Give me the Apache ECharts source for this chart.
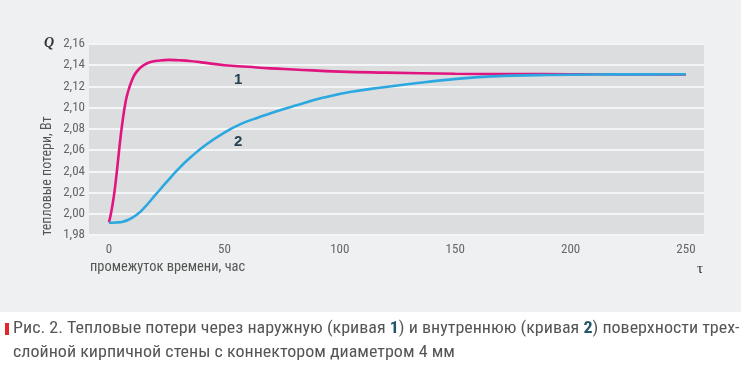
<!DOCTYPE html>
<html><head><meta charset="utf-8">
<script src="https://cdn.jsdelivr.net/npm/echarts@6/dist/echarts.min.js"></script>
<style>html,body{margin:0;padding:0;background:#fff}#c{width:746px;height:386px}</style>
</head><body><div id="c"></div>
<script>
const curve1X = [0,1,2,3,4,5,6,7,8,10,12,15,18,22,26,30,35,40,50,60,70,80,100,120,150,175,200,225,250];
const curve1Y = [1.992,2.002,2.015,2.032,2.052,2.072,2.089,2.103,2.113,2.126,2.134,2.140,2.143,2.1445,2.145,2.1447,2.144,2.1427,2.140,2.1385,2.137,2.136,2.134,2.133,2.132,2.1317,2.1315,2.1314,2.1314];
const curve2X = [0,3,6,9,12,15,20,25,30,35,42,50,57,65,71,80,93,105,120,132,146,160,175,190,210,230,250];
const curve2Y = [1.9916,1.9918,1.9925,1.995,1.999,2.005,2.0175,2.030,2.042,2.0525,2.065,2.0765,2.0845,2.091,2.0955,2.1015,2.1095,2.115,2.1195,2.1228,2.1262,2.1288,2.1302,2.1308,2.1312,2.1314,2.1315];
const xTicks = [0,50,100,150,200,250];
const curveLabels = [{name:'1', x:56, y:2.126}, {name:'2', x:56, y:2.068}];
const yAxisTitle = 'тепловые потери, Вт';
const xAxisTitle = 'промежуток времени, час';
const captionLine1 = ['Рис. 2. Тепловые потери через наружную (кривая ', '1', ') и внутреннюю (кривая ', '2', ') поверхности трех-'];
const captionLine2 = 'слойной кирпичной стены с коннектором диаметром 4 мм';

const FONT = '"Liberation Sans Narrow", "Roboto Condensed", "Liberation Sans", sans-serif';
const chart = echarts.init(document.getElementById('c'));
const zip = (xs, ys) => xs.map((x, i) => [x, ys[i]]);
const labelPoints = (lbl) => ({
  symbol: 'circle', symbolSize: 0,
  label: {show: true, position: 'inside', formatter: '{b}', color: '#23414f', fontWeight: 'bold', fontSize: 15, fontFamily: 'Liberation Sans, sans-serif'},
  data: [{name: lbl.name, coord: [lbl.x, lbl.y]}]
});
chart.setOption({
  animation: false,
  backgroundColor: '#ffffff',
  graphic: [
    {type: 'rect', z: -10, shape: {x: 0, y: 0, width: 741, height: 312}, style: {fill: '#eff0f1'}},
    {type: 'text', left: 44, top: 36, style: {text: 'Q', font: 'italic bold 14px "Liberation Serif", serif', fill: '#333'}},
    {type: 'text', x: 47, y: 176, rotation: Math.PI/2, style: {text: yAxisTitle, font: '14px ' + FONT, fill: '#555', align: 'center', verticalAlign: 'middle'}},
    {type: 'text', x: 90, y: 260, scaleX: 1.03, style: {text: xAxisTitle, font: '14px ' + FONT, fill: '#555'}},
    {type: 'text', left: 697, top: 262, style: {text: 'τ', font: '15px "Liberation Serif", serif', fill: '#333'}},
    {type: 'rect', shape: {x: 5, y: 323, width: 4, height: 12}, style: {fill: '#e3262b'}},
    {type: 'text', x: 13, y: 321, scaleX: 1.125, style: {
      rich: {n: {font: '16px ' + FONT, fill: '#555'}, b: {font: 'bold 16px ' + FONT, fill: '#24566a'}},
      text: '{n|' + captionLine1[0] + '}{b|' + captionLine1[1] + '}{n|' + captionLine1[2] + '}{b|' + captionLine1[3] + '}{n|' + captionLine1[4] + '}'
    }},
    {type: 'text', x: 13, y: 345, scaleX: 1.125, style: {text: captionLine2, font: '16px ' + FONT, fill: '#555'}}
  ],
  grid: {left: 89, right: 42, top: 44, bottom: 151, show: true, backgroundColor: '#dcdddf', borderWidth: 0},
  xAxis: {
    type: 'value', min: -8.66, max: 257.8,
    axisLine: {show: false}, axisTick: {show: false}, splitLine: {show: false},
    axisLabel: {customValues: xTicks, color: '#666', fontSize: 13, fontFamily: FONT, margin: 8}
  },
  yAxis: {
    type: 'value', min: 1.98, max: 2.16, interval: 0.02,
    axisLine: {show: false}, axisTick: {show: false},
    splitLine: {show: true, lineStyle: {color: '#f4f5f6', width: 2}},
    axisLabel: {color: '#666', fontSize: 13, fontFamily: FONT, margin: 4, formatter: v => v.toFixed(2).replace('.', ',')}
  },
  series: [
    {type: 'line', data: zip(curve2X, curve2Y), smooth: 0.5, showSymbol: false, lineStyle: {color: '#2ba8e0', width: 2.6}, z: 3, markPoint: labelPoints(curveLabels[1])},
    {type: 'line', data: zip(curve1X, curve1Y), smooth: 0.5, showSymbol: false, lineStyle: {color: '#e0157f', width: 2.6}, z: 2, markPoint: labelPoints(curveLabels[0])}
  ]
});
</script></body></html>
